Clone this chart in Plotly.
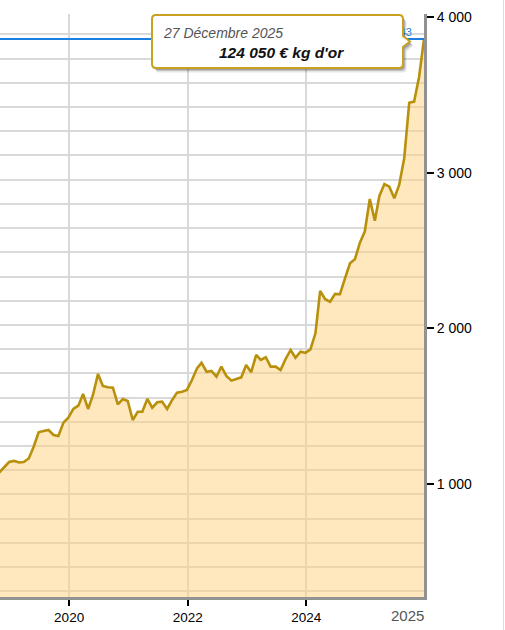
import pandas as pd
import plotly.graph_objects as go

# Gold price, €/oz, monthly
values = [1073, 1109, 1141, 1148, 1138, 1141, 1164, 1238, 1332, 1340, 1347, 1315, 1308, 1394,
          1426, 1482, 1503, 1578, 1482, 1572, 1707, 1630, 1621, 1619, 1512, 1546,
          1533, 1411, 1464, 1464, 1546, 1490, 1525, 1529, 1482, 1540, 1587, 1593,
          1604, 1668, 1743, 1779, 1721, 1726, 1689, 1754, 1694, 1664, 1674, 1685,
          1764, 1718, 1829, 1797, 1814, 1754, 1754, 1732, 1803, 1861, 1811, 1850,
          1843, 1865, 1968, 2240, 2187, 2171, 2221, 2219, 2321, 2418, 2443, 2550,
          2621, 2831, 2691, 2850, 2927, 2910, 2835, 2921, 3092, 3449, 3456, 3616,
          3858]
dates = pd.date_range(start="2018-10-27", periods=len(values), freq=pd.DateOffset(months=1))

year_ticks = ["2018-01-01", "2020-01-01", "2022-01-01", "2024-01-01", "2026-01-01"]
year_labels = ["2018", "2020", "2022", "2024", "2026"]
y_ticks = [1000, 2000, 3000, 4000]
y_labels = ["1 000", "2 000", "3 000", "4 000"]
oz_per_kg = 32.1507
grid_step = 5000 / oz_per_kg  # gridlines every 5 000 €/kg

tooltip_date = "27 Décembre 2025"
tooltip_value = "124 050 € kg d'or"
last_label = "3 858,43"
end_label = "2025"

FONT = "Arial, Liberation Sans, sans-serif"
GOLD = "#b8900c"
W, H = 505, 630
L, R, T, B = 0, 81, 14, 33
PW, PH = W - L - R, H - T - B


def px(x):
    return (x - L) / PW


def py(y):
    return (H - B - y) / PH


fig = go.Figure()
fig.add_trace(go.Scatter(
    x=dates, y=values, mode="lines",
    line=dict(color=GOLD, width=2.6),
    fill="tozeroy", fillcolor="rgba(255,208,125,0.5)",
    hoverinfo="skip", yaxis="y",
))
fig.add_trace(go.Scatter(
    x=[dates[-1]], y=[values[-1]], mode="text",
    text=[last_label + "\u00a0\u00a0\u00a0\u00a0"], textposition="top left",
    textfont=dict(family=FONT, size=11, color="#1a7fe0"),
    hoverinfo="skip", yaxis="y", cliponaxis=False,
))

yr = [274, 4019]
fig.update_layout(
    width=W, height=H,
    margin=dict(l=L, r=R, t=T, b=B),
    paper_bgcolor="white", plot_bgcolor="white",
    showlegend=False,
    font=dict(family=FONT, color="black"),
    xaxis=dict(
        range=["2018-11-01", "2025-12-27"],
        tickvals=year_ticks, ticktext=year_labels,
        showgrid=True, gridcolor="#d9d9d9", gridwidth=1.6,
        showline=True, linecolor="#929292", linewidth=3,
        ticks="outside", ticklen=6, tickwidth=2, tickcolor="black",
        tickfont=dict(size=13.5, color="black"),
        zeroline=False,
    ),
    yaxis=dict(
        range=yr, tick0=0, dtick=grid_step,
        showgrid=True, gridcolor="#d9d9d9", gridwidth=1.6,
        showticklabels=False, zeroline=False, showline=False,
    ),
    yaxis2=dict(
        range=yr, overlaying="y", side="right",
        tickvals=y_ticks, ticktext=y_labels,
        showgrid=False, zeroline=False,
        showline=True, linecolor="#929292", linewidth=3,
        ticks="outside", ticklen=7, tickwidth=2, tickcolor="black",
        tickfont=dict(size=14, color="black"),
    ),
)
# dummy trace so yaxis2 is drawn
fig.add_trace(go.Scatter(x=[dates[0]], y=[values[0]], yaxis="y2", mode="lines",
                         line=dict(width=0), hoverinfo="skip", showlegend=False))

shapes = []
# blue current-value line
shapes.append(dict(type="line", xref="paper", yref="y", x0=0, x1=1,
                   y0=values[-1], y1=values[-1],
                   line=dict(color="#1a7fe0", width=2), layer="above"))


def tooltip_path(dx=0.0, dy=0.0):
    x0, x1, y0, y1, r = 152 + dx, 403 + dx, 15 + dy, 68 + dy, 4
    pts = [
        ("M", [(x0 + r, y0)]), ("L", [(x1 - r, y0)]), ("Q", [(x1, y0), (x1, y0 + r)]),
        ("L", [(x1, 36 + dy)]), ("L", [(410 + dx, 41.5 + dy)]), ("L", [(x1, 47 + dy)]),
        ("L", [(x1, y1 - r)]), ("Q", [(x1, y1), (x1 - r, y1)]),
        ("L", [(x0 + r, y1)]), ("Q", [(x0, y1), (x0, y1 - r)]),
        ("L", [(x0, y0 + r)]), ("Q", [(x0, y0), (x0 + r, y0)]),
    ]
    s = ""
    for cmd, ps in pts:
        s += cmd + " ".join(f"{px(a):.5f},{py(b):.5f}" for a, b in ps) + " "
    return s + "Z"


for (dx, dy, a) in [(3.5, 4.5, 0.10), (2.5, 3.0, 0.14), (1.5, 2.0, 0.18)]:
    shapes.append(dict(type="path", xref="paper", yref="paper", path=tooltip_path(dx, dy),
                       fillcolor=f"rgba(0,0,0,{a})", line=dict(width=0), layer="above"))
shapes.append(dict(type="path", xref="paper", yref="paper", path=tooltip_path(),
                   fillcolor="white", line=dict(color="#c9a020", width=2), layer="above"))
# page border at right
shapes.append(dict(type="line", xref="paper", yref="paper", x0=px(503.5), x1=px(503.5),
                   y0=py(630), y1=py(0), line=dict(color="#dddddd", width=1), layer="above"))
fig.update_layout(shapes=shapes)

fig.add_annotation(xref="paper", yref="paper", x=px(161), y=py(33), xanchor="left",
                   yanchor="middle", text=f"<i>{tooltip_date}</i>", showarrow=False,
                   font=dict(family=FONT, size=14, color="#555555"))
fig.add_annotation(xref="paper", yref="paper", x=px(281), y=py(52), xanchor="center",
                   yanchor="middle", text=f"<b><i>{tooltip_value}</i></b>", showarrow=False,
                   font=dict(family=FONT, size=15.5, color="#111111"))
fig.add_annotation(xref="paper", yref="paper", x=px(426), y=py(615), xanchor="right",
                   yanchor="middle", text=end_label, showarrow=False,
                   font=dict(family=FONT, size=15, color="#555555"))

fig.write_html("out.html", config={"displayModeBar": False},
               post_script="document.body.style.margin='0';document.body.style.padding='0';")
